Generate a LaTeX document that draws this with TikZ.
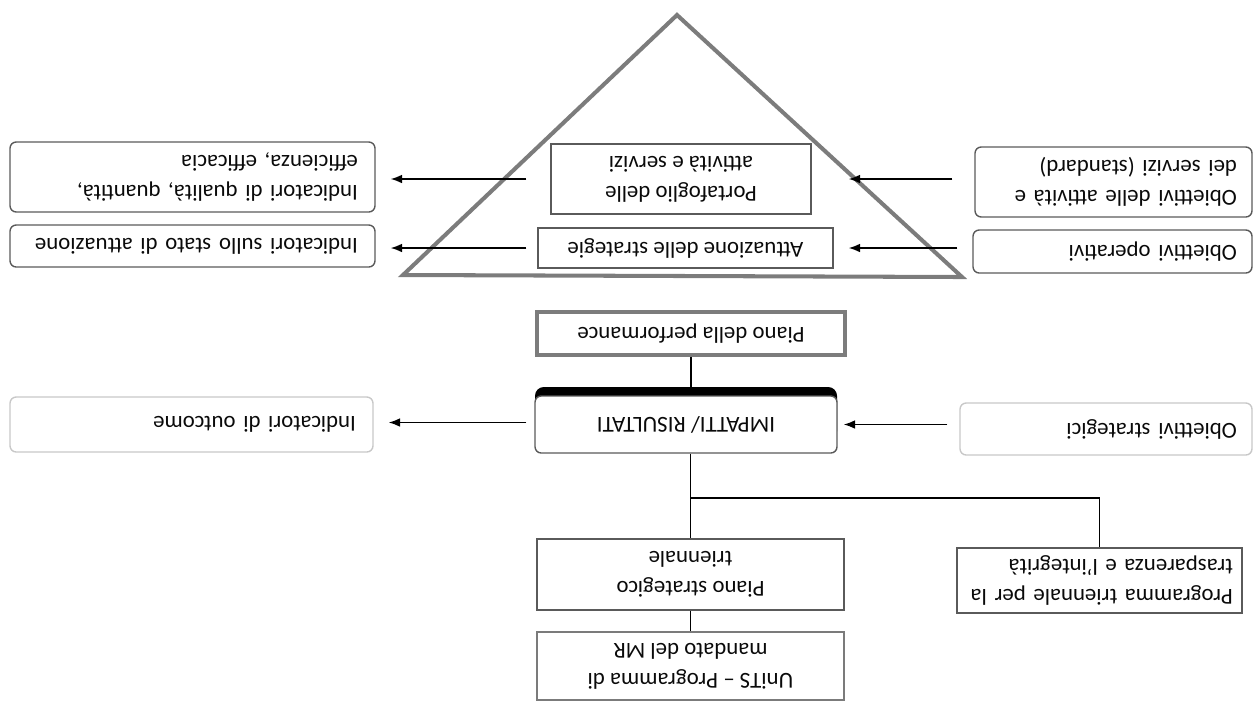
\documentclass[tikz,border=0pt]{standalone}
\usepackage{fontspec}
\setmainfont{Carlito}
\usetikzlibrary{calc,arrows.meta}
\definecolor{tri}{HTML}{7C7C7C}
\definecolor{bord}{HTML}{5A5A5A}
\definecolor{faint}{HTML}{C8C8C8}
\definecolor{ink}{HTML}{0A0A0A}
\tikzset{
  box/.style={draw=bord, line width=0.8pt, rotate=180, text=ink, inner sep=0pt,
    font=\fontsize{13pt}{17pt}\selectfont, align=center},
  rbox/.style={box, rounded corners=3.5pt},
  lbox/.style={align=left, inner xsep=#1},
  thickbox/.style={box, draw=tri, line width=2.2pt},
  fbox/.style={rbox, draw=faint},
  arr/.style={draw=black, line width=0.9pt, -{Latex[length=6.5pt,width=5pt]}},
  con/.style={draw=black, line width=1pt},
}
\begin{document}
\begin{tikzpicture}[x=0.02cm,y=-0.02cm]
\useasboundingbox (0,0) rectangle (1253,701);
% pyramid
\draw[tri, line width=2.3pt, line join=miter] (677,15) -- (962,277) -- (403,275) -- cycle;
% nodes
\node[box, minimum width=5.9cm, minimum height=0.8cm] (att) at (685.5,248) {Attuazione delle strategie};
\node[box, minimum width=5.2cm, minimum height=1.4cm] (port) at (681,179) {Portafoglio delle\\attività e servizi};
\node[rbox, lbox=0.3cm, text width=4.98cm, minimum height=0.86cm] (opop) at (1112.5,251.5) {Obiettivi operativi};
\node[rbox, lbox=0.3cm, text width=4.94cm, minimum height=1.4cm] (opatt) at (1113.5,182) {Obiettivi delle attività e\\dei servizi (standard)};
\node[rbox, lbox=0.34cm, text width=6.62cm, minimum height=0.84cm] (indst) at (192.5,246) {Indicatori sullo stato di attuazione};
\node[rbox, lbox=0.34cm, text width=6.62cm, minimum height=1.4cm] (indq) at (192.5,177) {Indicatori di qualità, quantità,\\efficienza, efficacia};
\node[thickbox, minimum width=6.16cm, minimum height=0.86cm] (perf) at (691,333.5) {Piano della performance};
% IMPATTI with dark top edge
\fill[black, rounded corners=5pt] (535,387) rectangle (837,440);
\node[rbox, fill=white, minimum width=6.04cm, minimum height=1.14cm] (imp) at (686,424.5) {IMPATTI/ RISULTATI};
\node[fbox, lbox=0.3cm, text width=5.24cm, minimum height=1.04cm] (opstr) at (1106,429) {Obiettivi strategici};
\node[fbox, lbox=0.34cm, text width=6.58cm, minimum height=1.1cm] (indout) at (191.5,424.5) {Indicatori di outcome};
\node[box, minimum width=6.14cm, minimum height=1.42cm] (pst) at (690.5,574.5) {Piano strategico\\triennale};
\node[box, lbox=0.18cm, text width=5.34cm, minimum height=1.3cm] (prog) at (1099.5,580.5) {Programma triennale per la\\trasparenza e l'integrità};
\node[box, draw=bord!80, minimum width=6.14cm, minimum height=1.36cm] (units) at (690.5,666) {UniTS – Programma di\\mandato del MR};
% connectors
\draw[arr] ($(opop.east |- att.center)+(-15,0)$) -- ($(att.west)+(15,0)$);
\draw[arr] ($(opatt.east |- port.center)+(-22,0)$) -- ($(port.west)+(37,0)$);
\draw[arr] ($(att.east)+(-11,0)$) -- ($(indst.west |- att.center)+(15,0)$);
\draw[arr] ($(port.east)+(-24,0)$) -- ($(indq.west |- port.center)+(15,0)$);
\draw[arr] ($(imp.east)+(-8,-2)$) -- ($(indout.west |- imp.center)+(15,-2)$);
\draw[arr] ($(opstr.east |- imp.center)+(-12,0)$) -- ($(imp.west)+(6,0)$);
\draw[con] (perf.north) -- (perf.north |- 0,387);
\draw[con] (pst.south |- imp.north) -- (pst.south);
\coordinate (j) at ($(imp.north)!0.52!(pst.south)$);
\draw[con] (pst.south |- j) -| (prog.south);
\draw[con] (pst.north) -- (units.south);
\end{tikzpicture}
\end{document}
